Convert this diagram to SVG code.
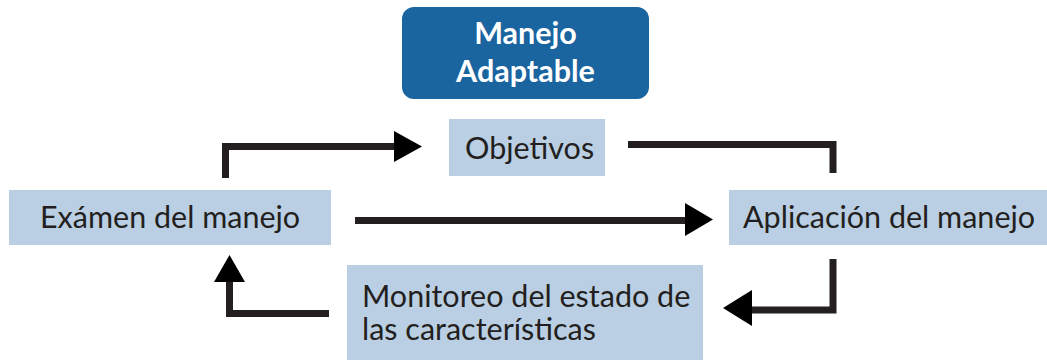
<svg xmlns="http://www.w3.org/2000/svg" width="1047" height="362" viewBox="0 0 1047 362">
<style>
.box{fill:#bacfe3}
.t{font-family:Lato,"Open Sans","Liberation Sans",sans-serif;font-size:30.5px;fill:#231f20}
.h{font-family:Lato,"Open Sans","Liberation Sans",sans-serif;font-size:30.5px;font-weight:bold;fill:#ffffff;text-anchor:middle}
.c{fill:none;stroke:#231f20;stroke-width:7;stroke-linejoin:miter;stroke-linecap:butt}
.a{fill:#000000}
</style>
<rect width="1047" height="362" fill="#ffffff"/>
<g id="title">
<rect x="402" y="7" width="247" height="92" rx="12" ry="12" fill="#1a64a0"/>
<text class="h" x="525.5" y="44">Manejo</text>
<text class="h" x="525.5" y="82">Adaptable</text>
</g>
<g id="objetivos">
<rect class="box" x="449" y="119" width="156" height="57"/>
<text class="t" x="465" y="159">Objetivos</text>
</g>
<g id="examen">
<rect class="box" x="9" y="190" width="322" height="55"/>
<text class="t" x="40" y="228">Exámen del manejo</text>
</g>
<g id="aplicacion">
<rect class="box" x="729" y="190" width="318" height="55"/>
<text class="t" x="743" y="228">Aplicación del manejo</text>
</g>
<g id="monitoreo">
<rect class="box" x="347" y="265" width="356" height="95"/>
<text class="t" x="362" y="307">Monitoreo del estado de</text>
<text class="t" x="362" y="340">las características</text>
</g>
<g id="connectors">
<polyline class="c" points="225.5,178 225.5,146.5 395,146.5"/>
<polygon class="a" points="394,131 422,146.5 394,162"/>
<polyline class="c" points="628,144.5 833,144.5 833,173"/>
<line class="c" x1="355" y1="220.5" x2="687" y2="220.5"/>
<polygon class="a" points="685,203 713,219.5 685,236"/>
<polyline class="c" points="833,259 833,310 751,310"/>
<polygon class="a" points="752,290 723,308 752,326"/>
<polyline class="c" points="329,313.5 229.5,313.5 229.5,281"/>
<polygon class="a" points="214,282 229.5,255 245,282"/>
</g>
</svg>
